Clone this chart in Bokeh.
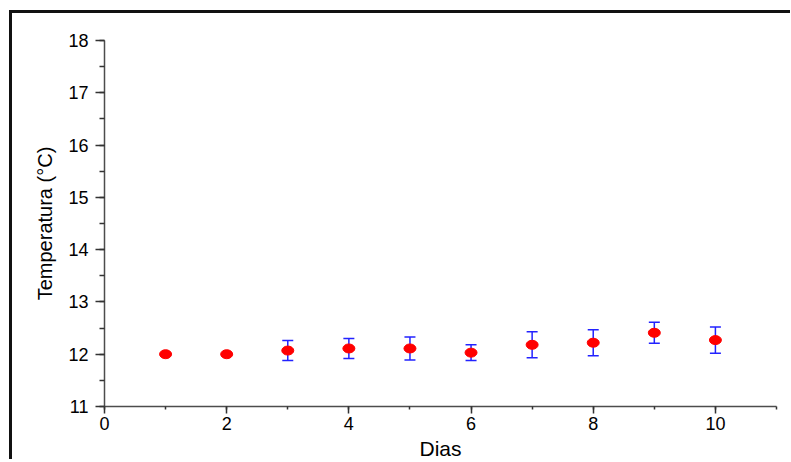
from bokeh.plotting import figure
from bokeh.models import Range1d, SingleIntervalTicker, ColumnDataSource, Whisker, TeeHead
from bokeh.embed import file_html
from bokeh.resources import INLINE

dias = [1, 2, 3, 4, 5, 6, 7, 8, 9, 10]
temperatura = [12.0, 12.0, 12.07, 12.11, 12.11, 12.03, 12.18, 12.22, 12.41, 12.27]
erro = [0.0, 0.0, 0.19, 0.19, 0.22, 0.15, 0.25, 0.25, 0.20, 0.25]

upper = [t + e for t, e in zip(temperatura, erro)]
lower = [t - e for t, e in zip(temperatura, erro)]
src = ColumnDataSource(data=dict(x=dias, y=temperatura, upper=upper, lower=lower))

FONT = "Liberation Sans"

p = figure(width=781, height=449, output_backend="svg", toolbar_location=None,
           x_range=Range1d(0, 11), y_range=Range1d(11, 18),
           min_border_left=92, min_border_top=27, min_border_right=17, min_border_bottom=50)
p.styles = {"border-left": "3px solid #111111", "border-top": "3px solid #111111",
            "margin-left": "9px", "margin-top": "10px"}
p.outline_line_color = None
p.grid.visible = False

p.xaxis.ticker = SingleIntervalTicker(interval=2, num_minor_ticks=2)
p.yaxis.ticker = SingleIntervalTicker(interval=1, num_minor_ticks=2)

for ax in (p.xaxis[0], p.yaxis[0]):
    ax.axis_line_color = "#4d4d4d"
    ax.axis_line_width = 1.5
    ax.major_tick_line_color = "#333333"
    ax.minor_tick_line_color = "#333333"
    ax.major_tick_line_width = 1.5
    ax.minor_tick_line_width = 1.5
    ax.major_tick_in = 0
    ax.minor_tick_in = 0
    ax.major_label_text_font = FONT
    ax.major_label_text_font_size = "18px"
    ax.major_label_text_color = "#000000"
    ax.axis_label_text_font = FONT
    ax.axis_label_text_font_style = "normal"
    ax.axis_label_text_color = "#000000"

p.xaxis.major_tick_out = 7
p.xaxis.minor_tick_out = 3
p.yaxis.major_tick_out = 9
p.yaxis.minor_tick_out = 5
p.xaxis.major_label_standoff = 3
p.yaxis.major_label_standoff = 7

p.xaxis.axis_label = "Dias"
p.xaxis.axis_label_text_font_size = "21px"
p.xaxis.axis_label_standoff = 4
p.yaxis.axis_label = "Temperatura (°C)"
p.yaxis.axis_label_text_font_size = "20px"
p.yaxis.axis_label_standoff = 9

w = Whisker(source=src, base="x", upper="upper", lower="lower",
            line_color="#2222ff", line_width=1.5,
            upper_head=TeeHead(size=11, line_color="#2222ff", line_width=1.5),
            lower_head=TeeHead(size=11, line_color="#2222ff", line_width=1.5))
p.add_layout(w)

p.ellipse(x="x", y="y", width=12, height=9, width_units="screen", height_units="screen",
          source=src, fill_color="#ff0000", line_color="#ff0000")

open("out.html", "w").write(file_html(p, INLINE))
